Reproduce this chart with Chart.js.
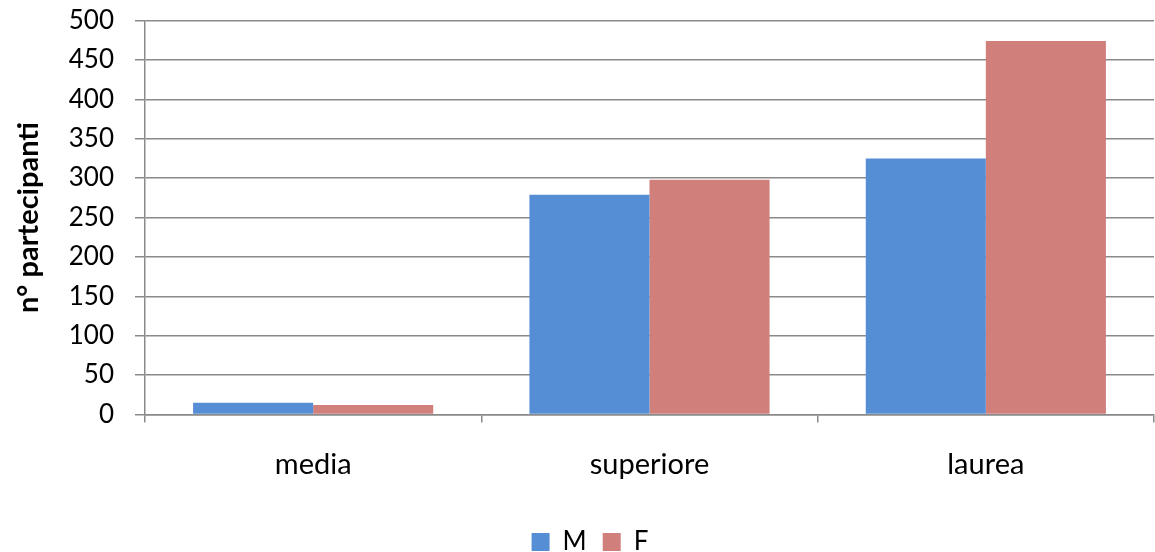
<!DOCTYPE html>
<html>
<head>
<meta charset="utf-8">
<script src="https://cdn.jsdelivr.net/npm/chart.js@4"></script>
<style>
  html, body { margin: 0; padding: 0; background: #ffffff; }
  #wrap { width: 1155px; height: 552px; position: relative; }
</style>
</head>
<body>
<div id="wrap"><canvas id="c" width="1155" height="552"></canvas></div>
<script>
const categories = ['media', 'superiore', 'laurea'];
const seriesM = [15, 279, 325];
const seriesF = [12, 298, 474];
const yTicks = [0, 50, 100, 150, 200, 250, 300, 350, 400, 450, 500];
const yTitle = 'n° partecipanti';

const FONT = 'Lato, "Open Sans", sans-serif';
const PAD_LEFT = 26;
const PLOT_LEFT = 145;
const PLOT_BOTTOM = 414.5;
const PAD_BOTTOM = -13;

new Chart(document.getElementById('c'), {
  type: 'bar',
  data: {
    labels: categories,
    datasets: [
      { label: 'M', data: seriesM, backgroundColor: '#558ed5', borderWidth: 0 },
      { label: 'F', data: seriesF, backgroundColor: '#d07f7b', borderWidth: 0 }
    ]
  },
  options: {
    responsive: false,
    animation: false,
    devicePixelRatio: 1,
    layout: { padding: { left: PAD_LEFT, right: 1, top: 20.5, bottom: PAD_BOTTOM } },
    datasets: { bar: { categoryPercentage: 0.714, barPercentage: 1.0 } },
    plugins: {
      tooltip: { enabled: false },
      legend: {
        position: 'bottom',
        labels: {
          color: '#000000',
          font: { family: FONT, size: 26 },
          boxWidth: 18,
          boxHeight: 18,
          padding: 16
        }
      }
    },
    scales: {
      x: {
        grid: { display: true, drawOnChartArea: false, drawTicks: true, tickLength: 8, offset: true, color: '#8a8a8a', lineWidth: 1.5 },
        border: { display: true, color: '#8a8a8a', width: 1.5 },
        ticks: { color: '#000000', font: { family: FONT, size: 29 }, padding: 25, maxRotation: 0 },
        afterFit: function (scale) {
          const lh = scale.chart.legend ? scale.chart.legend.height : 0;
          scale.height = scale.chart.height - lh - PAD_BOTTOM - PLOT_BOTTOM;
        }
      },
      y: {
        min: 0,
        max: 500,
        afterBuildTicks: function (scale) {
          scale.ticks = yTicks.map(function (v) { return { value: v }; });
        },
        grid: { color: '#8a8a8a', lineWidth: 1.5, tickLength: 10 },
        border: { display: true, color: '#8a8a8a', width: 1.5 },
        ticks: { color: '#000000', font: { family: FONT, size: 26 }, padding: 21 },
        title: {
          display: true,
          text: yTitle,
          color: '#000000',
          font: { family: FONT, size: 29, weight: 'bold' },
          padding: { top: -15, bottom: 0 }
        },
        afterFit: function (scale) {
          scale.width = PLOT_LEFT - PAD_LEFT;
          scale.paddingTop = 0;
          scale.paddingBottom = 0;
        }
      }
    }
  }
});
</script>
</body>
</html>
